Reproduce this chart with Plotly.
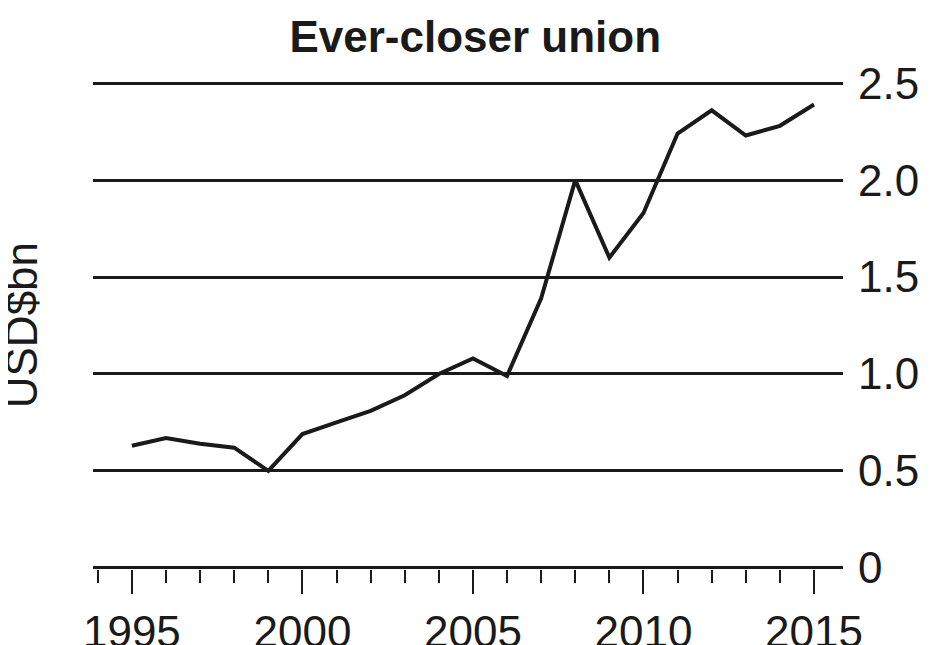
import plotly.graph_objects as go

years = list(range(1995, 2016))
values = [0.63, 0.67, 0.64, 0.62, 0.50, 0.69, 0.75, 0.81, 0.89, 1.00, 1.08,
          0.99, 1.39, 2.00, 1.60, 1.83, 2.24, 2.36, 2.23, 2.28, 2.39]
ytick_vals = [0, 0.5, 1.0, 1.5, 2.0, 2.5]
ytick_text = ["0", "0.5", "1.0", "1.5", "2.0", "2.5"]

fig = go.Figure()
fig.add_trace(go.Scatter(x=years, y=values, mode="lines",
                         line=dict(color="#1a1a1a", width=4), cliponaxis=False))

fig.update_layout(
    width=944, height=645,
    margin=dict(l=85, r=109, t=74, b=84, autoexpand=False),
    paper_bgcolor="white", plot_bgcolor="white",
    showlegend=False,
    font=dict(family="Liberation Sans, Arial, sans-serif", color="#1a1a1a", size=44),
    title=dict(text="<b>Ever-closer union</b>", x=0.495, xanchor="center",
               y=0.955, yanchor="middle", font=dict(size=44)),
    xaxis=dict(range=[1993.86, 2015.85], tickvals=[1995, 2000, 2005, 2010, 2015],
               ticks="outside", ticklen=24, tickwidth=2, tickcolor="#1a1a1a",
               minor=dict(dtick=1, tick0=1995, ticks="outside", ticklen=13,
                          tickwidth=2, tickcolor="#1a1a1a"),
               showgrid=False, zeroline=False, showline=False, automargin=False),
    yaxis=dict(range=[-0.006, 2.506], side="right", tickvals=ytick_vals, ticktext=ytick_text,
               showgrid=True, gridcolor="#1a1a1a", gridwidth=2.5, zeroline=False,
               ticks="", ticklabelstandoff=14, automargin=False),
)
fig.add_annotation(text="USD$bn", xref="paper", yref="paper", x=-0.095, y=0.5,
                   xanchor="center", textangle=-90, showarrow=False, font=dict(size=44))
fig.write_html("out.html")
